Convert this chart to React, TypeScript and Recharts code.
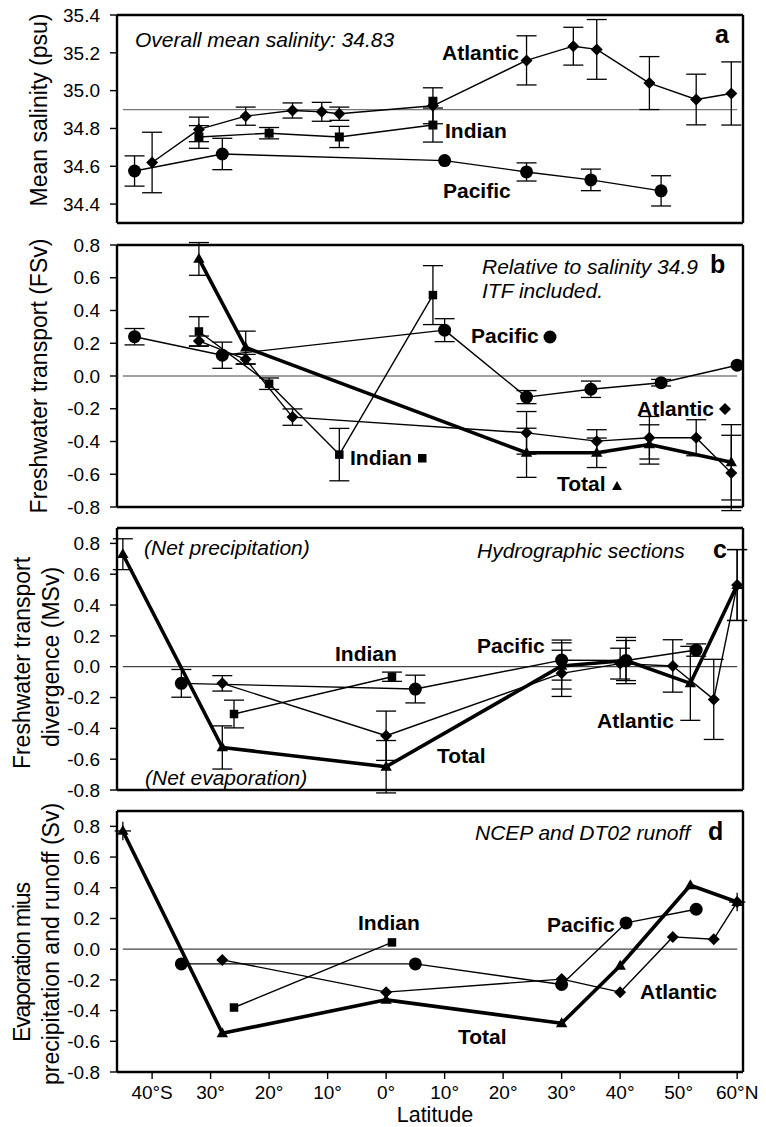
import React from 'react';
import { ComposedChart, Line, XAxis, YAxis, ErrorBar, ReferenceLine, Scatter } from 'recharts';

const FONT = '"Liberation Sans", Arial, Helvetica, sans-serif';

// ---- shared latitude axis ----
const LAT_DOMAIN: [number, number] = [-46, 61];
const latMajor = [-40, -30, -20, -10, 0, 10, 20, 30, 40, 50, 60];
const latMinor = [-45, -35, -25, -15, -5, 5, 15, 25, 35, 45, 55];
const fmtLat = (v: number) => (v === -40 ? '40°S' : v === 60 ? '60°N' : `${Math.abs(v)}°`);

// ---- (a) mean salinity, psu ----
const salDomain: [number, number] = [34.3, 35.4];
const salMajor = [34.4, 34.6, 34.8, 35.0, 35.2, 35.4];
const salMinor = [34.5, 34.7, 34.9, 35.1, 35.3];
const salMean = 34.9;
const salPacific = [
  { lat: -43, v: 34.575, e: 0.08 },
  { lat: -28, v: 34.665, e: 0.083 },
  { lat: 10, v: 34.63, e: null },
  { lat: 24, v: 34.57, e: 0.048 },
  { lat: 35, v: 34.528, e: 0.057 },
  { lat: 47, v: 34.47, e: 0.08 },
];
const salIndian = [
  { lat: -32, v: 34.755, e: 0.06 },
  { lat: -20, v: 34.775, e: 0.03 },
  { lat: -8, v: 34.755, e: 0.056 },
  { lat: 8, v: 34.818, e: 0.09 },
];
const salIndianExtra = [{ lat: 8, v: 34.944 }];
const salAtlantic = [
  { lat: -40, v: 34.62, e: 0.16 },
  { lat: -32, v: 34.795, e: 0.065 },
  { lat: -24, v: 34.865, e: 0.048 },
  { lat: -16, v: 34.895, e: 0.04 },
  { lat: -11, v: 34.888, e: 0.05 },
  { lat: -8, v: 34.878, e: 0.035 },
  { lat: 8, v: 34.92, e: 0.095 },
  { lat: 24, v: 35.16, e: 0.13 },
  { lat: 32, v: 35.235, e: 0.1 },
  { lat: 36, v: 35.218, e: 0.158 },
  { lat: 45, v: 35.04, e: 0.14 },
  { lat: 53, v: 34.953, e: 0.134 },
  { lat: 59, v: 34.985, e: 0.167 },
];

// ---- (b) freshwater transport, FSv ----
const svDomainB: [number, number] = [-0.8, 0.8];
const svMajor = [-0.8, -0.6, -0.4, -0.2, 0, 0.2, 0.4, 0.6, 0.8];
const svMinor = [-0.7, -0.5, -0.3, -0.1, 0.1, 0.3, 0.5, 0.7];
const ftPacific = [
  { lat: -43, v: 0.24, e: 0.05 },
  { lat: -28, v: 0.127, e: 0.08 },
  { lat: 10, v: 0.28, e: 0.07 },
  { lat: 24, v: -0.129, e: 0.04 },
  { lat: 35, v: -0.081, e: 0.05 },
  { lat: 47, v: -0.041, e: 0.02 },
  { lat: 60, v: 0.066, e: null },
];
const ftIndian = [
  { lat: -32, v: 0.272, e: 0.09 },
  { lat: -20, v: -0.047, e: 0.035 },
  { lat: -8, v: -0.48, e: 0.16 },
  { lat: 8, v: 0.494, e: 0.18 },
];
const ftAtlantic = [
  { lat: -32, v: 0.214, e: 0.03 },
  { lat: -24, v: 0.102, e: 0.03 },
  { lat: -16, v: -0.251, e: 0.05 },
  { lat: 24, v: -0.347, e: 0.13 },
  { lat: 36, v: -0.398, e: 0.07 },
  { lat: 45, v: -0.377, e: 0.13 },
  { lat: 53, v: -0.377, e: 0.11 },
  { lat: 59, v: -0.592, e: 0.23 },
];
const ftTotal = [
  { lat: -32, v: 0.715, e: 0.1 },
  { lat: -24, v: 0.174, e: 0.1 },
  { lat: 24, v: -0.469, e: 0.15 },
  { lat: 36, v: -0.469, e: 0.09 },
  { lat: 45, v: -0.418, e: 0.12 },
  { lat: 59, v: -0.527, e: 0.23 },
];

// ---- (c) freshwater transport divergence, MSv ----
const svDomainCD: [number, number] = [-0.8, 0.9];
const divPacific = [
  { lat: -35, v: -0.108, e: 0.09 },
  { lat: 5, v: -0.145, e: 0.09 },
  { lat: 30, v: 0.043, e: 0.13 },
  { lat: 41, v: 0.04, e: 0.15 },
  { lat: 53, v: 0.108, e: 0.04 },
];
const divIndian = [
  { lat: -26, v: -0.307, e: 0.09 },
  { lat: 1, v: -0.065, e: 0.03 },
];
const divAtlantic = [
  { lat: -28, v: -0.108, e: 0.05 },
  { lat: 0, v: -0.448, e: 0.16 },
  { lat: 30, v: -0.043, e: 0.15 },
  { lat: 40, v: 0.02, e: 0.1 },
  { lat: 49, v: 0.005, e: 0.17 },
  { lat: 56, v: -0.212, e: 0.26 },
  { lat: 60, v: 0.53, e: 0.23 },
];
const divTotal = [
  { lat: -45, v: 0.73, e: 0.1 },
  { lat: -28, v: -0.524, e: 0.14 },
  { lat: 0, v: -0.649, e: 0.17 },
  { lat: 30, v: 0.005, e: 0.15 },
  { lat: 41, v: 0.04, e: 0.13 },
  { lat: 52, v: -0.108, e: 0.24 },
  { lat: 60, v: 0.53, e: 0.23 },
];

// ---- (d) E - P - R from NCEP and DT02 runoff, Sv ----
const epPacific = [
  { lat: -35, v: -0.096 },
  { lat: 5, v: -0.096 },
  { lat: 30, v: -0.23 },
  { lat: 41, v: 0.171 },
  { lat: 53, v: 0.26 },
];
const epIndian = [
  { lat: -26, v: -0.38 },
  { lat: 1, v: 0.044 },
];
const epAtlantic = [
  { lat: -28, v: -0.07 },
  { lat: 0, v: -0.28 },
  { lat: 30, v: -0.195 },
  { lat: 40, v: -0.28 },
  { lat: 49, v: 0.08 },
  { lat: 56, v: 0.065 },
  { lat: 60, v: 0.307 },
];
const epTotal = [
  { lat: -45, v: 0.77 },
  { lat: -28, v: -0.548 },
  { lat: 0, v: -0.33 },
  { lat: 30, v: -0.483 },
  { lat: 40, v: -0.108 },
  { lat: 52, v: 0.416 },
  { lat: 60, v: 0.307 },
];
const epCross = [
  { lat: -45, v: 0.77, ex: 1.4, ey: 0.06 },
  { lat: 60, v: 0.307, ex: 1.4, ey: 0.06 },
];

// ---- marker shapes ----
const circleDot = (r: number) => (p: any) =>
  p.cx == null ? null : <circle key={`c${p.index}`} cx={p.cx} cy={p.cy} r={r} fill="#000" />;
const squareDot = (s: number) => (p: any) =>
  p.cx == null ? null : <rect key={`s${p.index}`} x={p.cx - s / 2} y={p.cy - s / 2} width={s} height={s} fill="#000" />;
const diamondDot = (h: number) => (p: any) =>
  p.cx == null ? null : (
    <polygon
      key={`d${p.index}`}
      points={`${p.cx},${p.cy - h} ${p.cx + h},${p.cy} ${p.cx},${p.cy + h} ${p.cx - h},${p.cy}`}
      fill="#000"
    />
  );
const triangleDot = (h: number) => (p: any) =>
  p.cx == null ? null : (
    <polygon
      key={`t${p.index}`}
      points={`${p.cx},${p.cy - h} ${p.cx + h * 0.95},${p.cy + h * 0.65} ${p.cx - h * 0.95},${p.cy + h * 0.65}`}
      fill="#000"
    />
  );

const THIN = 1.4;
const THICK = 3.6;
const ERR = { width: 10, stroke: '#000', strokeWidth: 1.3 };

type PanelProps = {
  top: number;
  height: number;
  plotTop: number;
  plotBottom: number;
  yDomain: [number, number];
  yMajor: number[];
  yMinor: number[];
  showLat?: boolean;
  children: React.ReactNode;
};

const tickStyle = { fill: '#000', fontSize: 19, fontFamily: FONT };
const frame = { stroke: '#000', strokeWidth: 2.4 };
const tl = { stroke: '#000', strokeWidth: 1.4 };

// Every axis is given a 1px box (a zero-size axis is not drawn), so the
// margins are reduced by the two stacked axes on each side.
const PLOT_LEFT = 117;
const PLOT_RIGHT = 23;

function Panel({ top, height, plotTop, plotBottom, yDomain, yMajor, yMinor, showLat, children }: PanelProps) {
  return (
    <div style={{ position: 'absolute', left: 0, top, width: 766, height }}>
      <ComposedChart
        width={766}
        height={height}
        margin={{ top: plotTop - 2, bottom: plotBottom - 2, left: PLOT_LEFT - 2, right: PLOT_RIGHT - 2 }}
      >
        <XAxis
          xAxisId={0}
          type="number"
          dataKey="lat"
          domain={LAT_DOMAIN}
          allowDataOverflow
          ticks={latMajor}
          interval={0}
          height={1}
          tickSize={7}
          tickMargin={7}
          tickLine={tl}
          axisLine={frame}
          tick={showLat ? tickStyle : false}
          tickFormatter={fmtLat}
        />
        <XAxis xAxisId="bm" type="number" dataKey="lat" domain={LAT_DOMAIN} allowDataOverflow ticks={latMinor}
          interval={0} height={1} tickSize={4} tickLine={tl} axisLine={false} tick={false} />
        <XAxis xAxisId="t" orientation="top" type="number" dataKey="lat" domain={LAT_DOMAIN} allowDataOverflow
          ticks={latMajor} interval={0} height={1} tickSize={7} tickLine={tl} axisLine={frame} tick={false} />
        <XAxis xAxisId="tm" orientation="top" type="number" dataKey="lat" domain={LAT_DOMAIN} allowDataOverflow
          ticks={latMinor} interval={0} height={1} tickSize={4} tickLine={tl} axisLine={false} tick={false} />
        <YAxis
          yAxisId={0}
          type="number"
          domain={yDomain}
          allowDataOverflow
          ticks={yMajor}
          interval={0}
          width={1}
          tickSize={7}
          tickMargin={10}
          tickLine={tl}
          axisLine={frame}
          tick={tickStyle}
          tickFormatter={(v: number) => v.toFixed(1)}
        />
        <YAxis yAxisId="lm" type="number" domain={yDomain} allowDataOverflow ticks={yMinor} interval={0}
          width={1} tickSize={4} tickLine={tl} axisLine={false} tick={false} />
        <YAxis yAxisId="r" orientation="right" type="number" domain={yDomain} allowDataOverflow ticks={yMajor}
          interval={0} width={1} tickSize={7} tickLine={tl} axisLine={frame} tick={false} />
        <YAxis yAxisId="rm" orientation="right" type="number" domain={yDomain} allowDataOverflow ticks={yMinor}
          interval={0} width={1} tickSize={4} tickLine={tl} axisLine={false} tick={false} />
        {children}
      </ComposedChart>
    </div>
  );
}

const zeroLine = (y: number, color = '#444') => (
  <ReferenceLine
    segment={[{ x: -45, y }, { x: 60, y }]}
    stroke={color}
    strokeWidth={1.2}
    ifOverflow="visible"
  />
);

const line = (data: any[], dot: any, width: number, withErr: boolean, key: string) => (
  <Line
    key={key}
    data={data}
    dataKey="v"
    stroke="#000"
    strokeWidth={width}
    strokeLinejoin="round"
    dot={dot}
    activeDot={false}
    isAnimationActive={false}
  >
    {withErr ? <ErrorBar dataKey="e" {...ERR} /> : null}
  </Line>
);

export default function App() {
  const bold = { fontFamily: FONT, fontWeight: 700, fontSize: 21, fill: '#000' } as const;
  const ital = { fontFamily: FONT, fontStyle: 'italic', fontSize: 21, fill: '#000' } as const;
  const title = { fontFamily: FONT, fontSize: 23, fill: '#000' } as const;
  const letter = { fontFamily: FONT, fontWeight: 700, fontSize: 25, fill: '#000' } as const;
  return (
    <div style={{ position: 'absolute', left: 0, top: 0, width: 766, height: 1127, background: '#fff' }}>
      {/* (a) mean salinity */}
      <Panel top={0} height={234} plotTop={15} plotBottom={11} yDomain={salDomain} yMajor={salMajor} yMinor={salMinor}>
        {zeroLine(salMean, '#777')}
        {line(salPacific, circleDot(6.5), THIN, true, 'p')}
        {line(salIndian, squareDot(9), THIN, true, 'i')}
        {line(salAtlantic, diamondDot(6), THIN, true, 'a')}
        <Scatter data={salIndianExtra} dataKey="v" shape={squareDot(9)} isAnimationActive={false} />
      </Panel>

      {/* (b) freshwater transport */}
      <Panel top={234} height={283} plotTop={11} plotBottom={10} yDomain={svDomainB} yMajor={svMajor} yMinor={svMinor}>
        {zeroLine(0)}
        {line(ftPacific, circleDot(6.5), THIN, true, 'p')}
        {line(ftIndian, squareDot(8.5), THIN, true, 'i')}
        {line(ftAtlantic, diamondDot(6), THIN, true, 'a')}
        {line(ftTotal, triangleDot(6), THICK, true, 't')}
      </Panel>

      {/* (c) transport divergence */}
      <Panel top={517} height={283} plotTop={11} plotBottom={10} yDomain={svDomainCD} yMajor={svMajor} yMinor={svMinor}>
        {zeroLine(0)}
        {line(divPacific, circleDot(6.5), THIN, true, 'p')}
        {line(divIndian, squareDot(8.5), THIN, true, 'i')}
        {line(divAtlantic, diamondDot(6), THIN, true, 'a')}
        {line(divTotal, triangleDot(6), THICK, true, 't')}
      </Panel>

      {/* (d) E - P - R */}
      <Panel top={800} height={327} plotTop={11} plotBottom={55} yDomain={svDomainCD} yMajor={svMajor} yMinor={svMinor} showLat>
        {zeroLine(0)}
        {line(epPacific, circleDot(6.5), THIN, false, 'p')}
        {line(epIndian, squareDot(8.5), THIN, false, 'i')}
        {line(epAtlantic, diamondDot(6), THIN, false, 'a')}
        {line(epTotal, triangleDot(6), THICK, false, 't')}
        <Scatter data={epCross} dataKey="v" shape={() => <g />} isAnimationActive={false}>
          <ErrorBar dataKey="ex" direction="x" width={0} stroke="#000" strokeWidth={1.3} />
          <ErrorBar dataKey="ey" direction="y" width={0} stroke="#000" strokeWidth={1.3} />
        </Scatter>
      </Panel>

      {/* titles and annotations */}
      <svg width={766} height={1127} style={{ position: 'absolute', left: 0, top: 0, pointerEvents: 'none' }}>
        {/* axis titles */}
        <text {...title} textAnchor="middle" transform="translate(46.5,110) rotate(-90)">Mean salinity (psu)</text>
        <text {...title} textAnchor="middle" transform="translate(46.5,376) rotate(-90)">Freshwater transport (FSv)</text>
        <text {...title} textAnchor="middle" transform="translate(29.5,663) rotate(-90)">Freshwater transport</text>
        <text {...title} textAnchor="middle" transform="translate(58.5,657) rotate(-90)">divergence (MSv)</text>
        <text {...title} textAnchor="middle" textLength={160} lengthAdjust="spacing"
          transform="translate(29.5,962) rotate(-90)">Evaporation mius</text>
        <text {...title} textAnchor="middle" transform="translate(58.5,944) rotate(-90)">precipitation and runoff (Sv)</text>
        <text {...title} fontSize={21.5} textAnchor="middle" x={435} y={1122}>Latitude</text>

        {/* panel a */}
        <text {...ital} x={135} y={39} dominantBaseline="central">Overall mean salinity: 34.83</text>
        <text {...letter} x={715} y={43}>a</text>
        <text {...bold} x={442} y={52} dominantBaseline="central">Atlantic</text>
        <text {...bold} x={445} y={130} dominantBaseline="central">Indian</text>
        <text {...bold} x={443} y={190} dominantBaseline="central">Pacific</text>

        {/* panel b */}
        <text {...ital} x={482} y={266} dominantBaseline="central">Relative to salinity 34.9</text>
        <text {...ital} x={482} y={290} dominantBaseline="central">ITF included.</text>
        <text {...letter} x={710} y={273}>b</text>
        <text {...bold} x={471} y={335} dominantBaseline="central">Pacific</text>
        <circle cx={550} cy={337} r={6.5} fill="#000" />
        <text {...bold} x={637} y={408} dominantBaseline="central">Atlantic</text>
        <polygon points="725,403 731,409 725,415 719,409" fill="#000" />
        <text {...bold} x={350} y={457} dominantBaseline="central">Indian</text>
        <rect x={418} y={454} width={8.5} height={8.5} fill="#000" />
        <text {...bold} x={557} y={483} dominantBaseline="central">Total</text>
        <polygon points="617,481 622,490 612,490" fill="#000" />

        {/* panel c */}
        <text {...ital} x={144} y={547} dominantBaseline="central">(Net precipitation)</text>
        <text {...ital} x={145} y={777} dominantBaseline="central">(Net evaporation)</text>
        <text {...ital} x={477} y={550} dominantBaseline="central">Hydrographic sections</text>
        <text {...letter} x={713} y={558}>c</text>
        <text {...bold} x={335} y={653} dominantBaseline="central">Indian</text>
        <text {...bold} x={477} y={645} dominantBaseline="central">Pacific</text>
        <text {...bold} x={597} y={720} dominantBaseline="central">Atlantic</text>
        <text {...bold} x={437} y={755} dominantBaseline="central">Total</text>

        {/* panel d */}
        <text {...ital} x={475} y={832} dominantBaseline="central">NCEP and DT02 runoff</text>
        <text {...letter} x={708} y={840}>d</text>
        <text {...bold} x={358} y={922} dominantBaseline="central">Indian</text>
        <text {...bold} x={547} y={924} dominantBaseline="central">Pacific</text>
        <text {...bold} x={640} y={991} dominantBaseline="central">Atlantic</text>
        <text {...bold} x={458} y={1036} dominantBaseline="central">Total</text>
      </svg>
    </div>
  );
}
